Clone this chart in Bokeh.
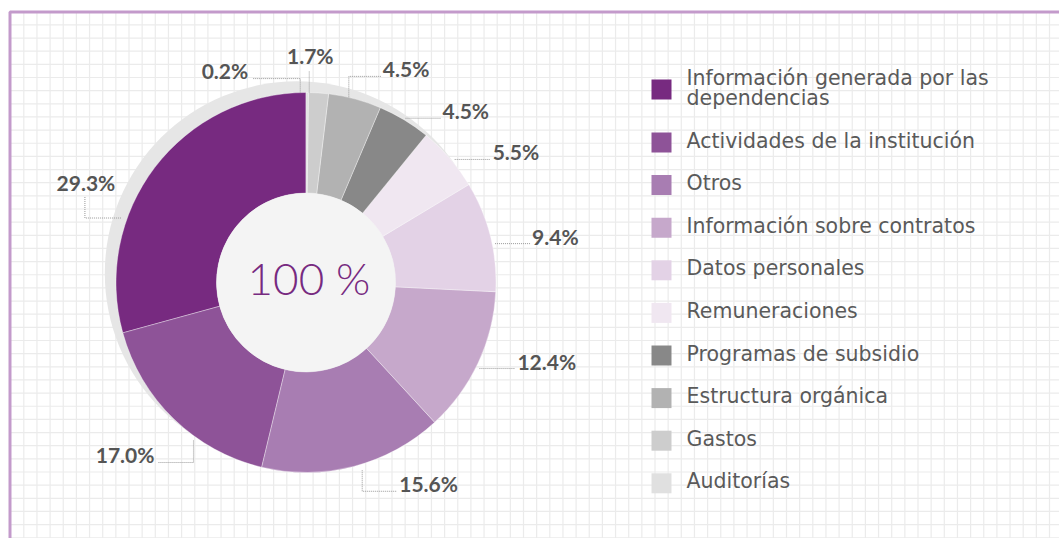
import numpy as np
from bokeh.plotting import figure
from bokeh.models import Range1d
from bokeh.core.properties import value
from bokeh.embed import file_html
from bokeh.resources import INLINE

# ---------------- data ----------------
categories = [
    "Información generada por las dependencias",
    "Actividades de la institución",
    "Otros",
    "Información sobre contratos",
    "Datos personales",
    "Remuneraciones",
    "Programas de subsidio",
    "Estructura orgánica",
    "Gastos",
    "Auditorías",
]
percentages = [29.3, 17.0, 15.6, 12.4, 9.4, 5.5, 4.5, 4.5, 1.7, 0.2]
legend_text = [
    "Información generada por las\ndependencias",
    "Actividades de la institución",
    "Otros",
    "Información sobre contratos",
    "Datos personales",
    "Remuneraciones",
    "Programas de subsidio",
    "Estructura orgánica",
    "Gastos",
    "Auditorías",
]
center_label = "100 %"

# ---------------- styles ----------------
colors = ["#772a80", "#8e5398", "#a87db2", "#c6a8cb", "#e3d2e6",
          "#f0e7f1", "#888888", "#b2b2b2", "#cdcdcd", "#e0e0e0"]
LABEL_COLOR = "#555555"
LEGEND_COLOR = "#5a5a5a"

# ---------------- layout (screen pixels) ----------------
W, H = 1059, 538
def X(xp):
    return xp
def Y(yp):
    return H - yp

CX, CY = 305.5, 282.0
R_OUT, R_IN = 190.0, 89.5
HALO_DX, HALO_DY, HALO_R = -9.2, -9.2, 192.0

# per-slice leader layout: angle shift (deg), anchor radius, path order, end offset (px), label side
lead_shift = [18.1, 8.6, 2.1, -1.3, -2.5, -1.3, -0.1, 1.9, 2.8, 2.1]
lead_r = [196, 194, 196, 193.6, 193, 193, 192, 190, 190, 190]
lead_order = ["h", "v", "v", "h", "h", "h", "h", "v", "v", "v"]
lead_off = [(-36, -21), (-35, 22), (35, 21), (36, 0), (35, 0), (36, 0),
            (35, 0), (32, -21), (0, -22), (-48, -14)]
lead_side = ["a", "l", "r", "r", "r", "r", "r", "r", "a", "l"]
TXT_DY = -8.5  # baseline correction

LEG_SQ_X, LEG_TXT_X = 661, 686
LEG_Y0, LEG_Y1, LEG_STEP = 89, 142, 42.6

p = figure(width=W, height=H, output_backend="svg", toolbar_location=None,
           x_range=Range1d(0, W), y_range=Range1d(0, H), min_border=0)
p.axis.visible = False
p.grid.visible = False
p.outline_line_color = None
p.background_fill_color = "white"
p.border_fill_color = "white"

# background grid paper (inside frame)
FRAME_L, FRAME_T = 9.5, 11.5
gx = np.arange(23.3, W + 1, 13.15)
gy = np.arange(24.4, H + 1, 13.15)
p.segment(x0=[X(v) for v in gx], y0=[Y(FRAME_T)] * len(gx), x1=[X(v) for v in gx], y1=[-2] * len(gx),
          line_color="#ebebeb", line_width=1.2)
p.segment(x0=[X(FRAME_L)] * len(gy), y0=[Y(v) for v in gy], x1=[W + 2] * len(gy), y1=[Y(v) for v in gy],
          line_color="#ebebeb", line_width=1.2)

# frame
p.line(x=[X(FRAME_L), X(FRAME_L), W + 5], y=[-5, Y(FRAME_T), Y(FRAME_T)],
       line_color="#c39acb", line_width=3)

# halo
p.circle(x=[X(CX + HALO_DX)], y=[Y(CY + HALO_DY)], radius=HALO_R,
         fill_color="#e6e6e6", line_color=None)

# wedges
vals = np.array(percentages, dtype=float)
total = vals.sum()
cum = np.concatenate([[0.0], np.cumsum(vals)])
start = np.pi / 2 + cum[:-1] / total * 2 * np.pi
end = np.pi / 2 + cum[1:] / total * 2 * np.pi
p.annular_wedge(x=X(CX), y=Y(CY), inner_radius=R_IN, outer_radius=R_OUT,
                start_angle=start, end_angle=end, direction="anticlock",
                fill_color=colors, line_color="white", line_width=0.6, line_alpha=0.6)

# inner circle + label
p.circle(x=[X(CX)], y=[Y(CY)], radius=R_IN, fill_color="#f4f4f4", line_color=None)
p.text(x=[X(CX + 3)], y=[Y(CY - 4.5)], text=[center_label], text_align="center",
       text_baseline="middle", text_font=value("Lato Light, Lato"), text_font_size="44px",
       text_color="#772a80")

# leader lines & percentage labels
mid = (start + end) / 2
xs, ys = [], []
for i, v in enumerate(percentages):
    th = mid[i] + np.deg2rad(lead_shift[i])
    ax = CX + lead_r[i] * np.cos(th)
    ay = CY - lead_r[i] * np.sin(th)
    ex, ey = ax + lead_off[i][0], ay + lead_off[i][1]
    cx, cy = (ax, ey) if lead_order[i] == "v" else (ex, ay)
    xs.append([X(ax), X(cx), X(ex)])
    ys.append([Y(ay), Y(cy), Y(ey)])
    txt = f"{v:.1f}%"
    if lead_side[i] == "r":
        tx, ty, al = ex + 2, ey + 1, "left"
    elif lead_side[i] == "l":
        tx, ty, al = ex - 4, ey + 0.5, "right"
    else:
        tx, ty, al = ex + 1, ey - 6.5, "center"
    p.text(x=[X(tx)], y=[Y(ty + TXT_DY)], text=[txt], text_align=al, text_baseline="alphabetic",
           text_font=value("Lato"), text_font_style="bold", text_font_size="21px",
           text_color=LABEL_COLOR)
p.multi_line(xs=xs, ys=ys, line_color="#999999", line_width=1, line_dash="1 1")

# legend
for i, lab in enumerate(legend_text):
    yc = LEG_Y0 if i == 0 else LEG_Y1 + (i - 1) * LEG_STEP
    p.rect(x=[X(LEG_SQ_X)], y=[Y(yc)], width=20, height=20, fill_color=colors[i], line_color=None)
    lines = lab.split("\n")
    n = len(lines)
    for j, ln in enumerate(lines):
        base = yc + 6.5 + (j - (n - 1) / 2) * 20
        p.text(x=[X(LEG_TXT_X)], y=[Y(base + TXT_DY)], text=[ln], text_align="left",
               text_baseline="alphabetic", text_font=value("DejaVu Sans"),
               text_font_size="20.5px", text_color=LEGEND_COLOR)

open("out.html", "w").write(file_html(p, INLINE))
